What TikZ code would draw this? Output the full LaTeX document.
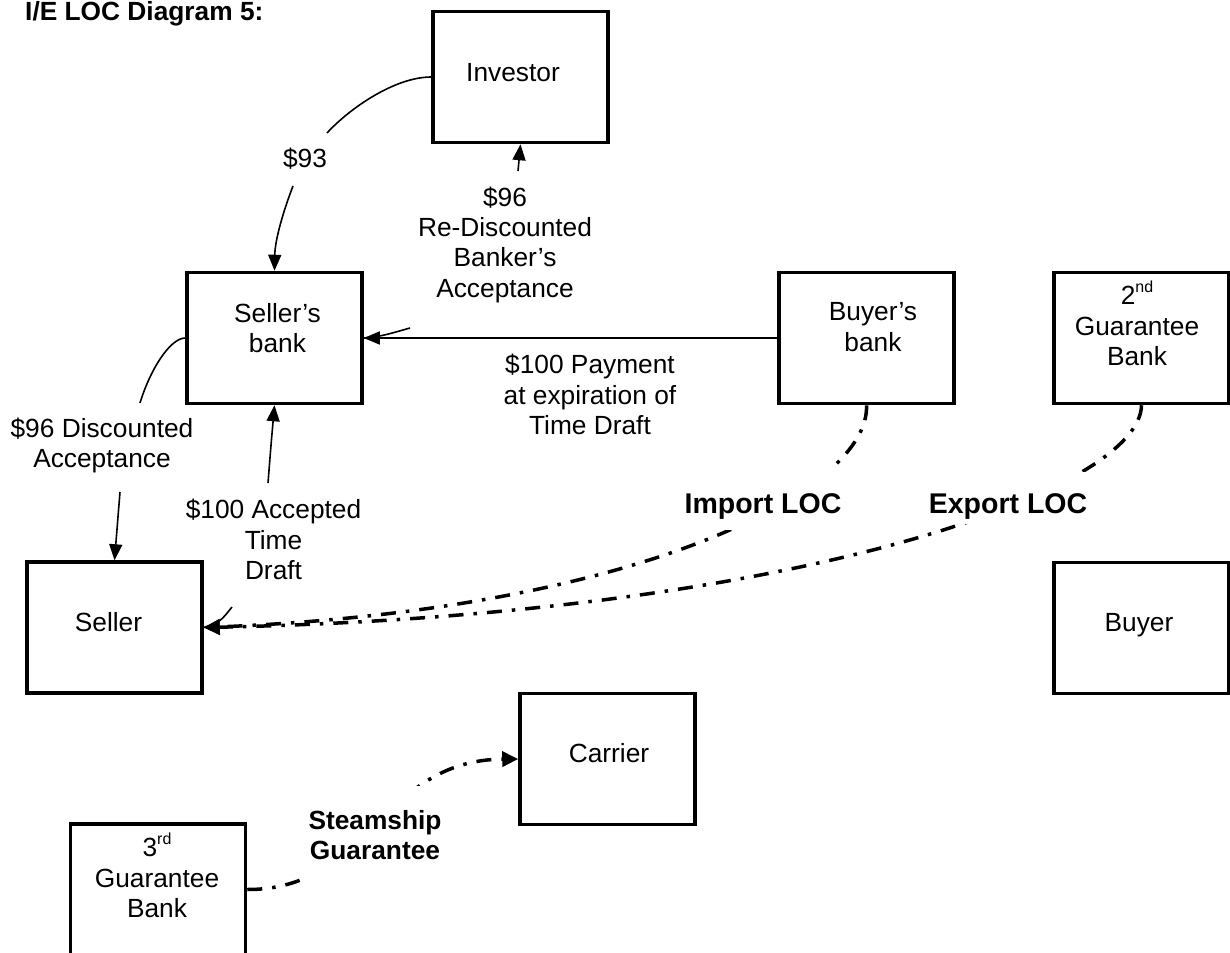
\documentclass[tikz,border=0pt]{standalone}
\usepackage{fontspec}
\setmainfont{Liberation Sans}
\usetikzlibrary{arrows.meta}
\begin{document}
\begin{tikzpicture}[x=1pt, y=-1pt,
  panel/.style={draw, line width=3.5pt, fill=white, minimum width=175pt, minimum height=131pt, inner sep=0pt},
  txt/.style={font=\fontsize{26.3}{30.3}\selectfont, align=center, inner sep=0pt},
  txtone/.style={font=\fontsize{26.3}{30.3}\selectfont, inner sep=0pt, anchor=base},
  thinline/.style={line width=1.6pt},
  thinarrow/.style={line width=1.6pt, -{Triangle[length=16pt,width=13pt]}},
  locline/.style={line width=3.5pt, dash pattern=on 15pt off 10pt on 3.5pt off 10pt},
  locarrow/.style={locline, -{Triangle[length=16pt,width=15pt]}},
  loclabel/.style={font=\bfseries\fontsize{28.5}{32}\selectfont, fill=white, inner xsep=4pt, text height=30pt, text depth=0pt, anchor=base}
]
\useasboundingbox (0,0) rectangle (1230,952);
\clip (0,0) rectangle (1230,952);

% title
\node[anchor=base west, font=\bfseries\fontsize{26.3}{30}\selectfont, inner sep=0pt] (title) at (25,21) {I/E LOC Diagram 5:};

% parties
\node[panel] (inv) at (520.5,77) {};
\node[panel] (sb)  at (274.5,338) {};
\node[panel] (bb)  at (866.5,338) {};
\node[panel] (gb2) at (1141.5,338) {};
\node[panel] (sel) at (114.5,627.5) {};
\node[panel] (buy) at (1141.5,628) {};
\node[panel] (car) at (607.5,759) {};
\node[panel] (gb3) at (158,889.5) {};

\node[txtone] (inv-t) at (513,81.5) {Investor};
\node[txt] (sb-t) at (277.5,328) {Seller’s\\bank};
\node[txt] (bb-t) at (873,327) {Buyer’s\\bank};
\node[txt] (gb2-t) at (1137,323.5) {2\raisebox{12pt}{\fontsize{16}{16}\selectfont nd}\\Guarantee\\Bank};
\node[txtone] (sel-t) at (108.5,631.5) {Seller};
\node[txtone] (buy-t) at (1139,631.5) {Buyer};
\node[txtone] (car-t) at (609,762.5) {Carrier};
\node[txt] (gb3-t) at (157,875.5) {3\raisebox{12pt}{\fontsize{16}{16}\selectfont rd}\\Guarantee\\Bank};

% $93 from the investor to the seller's bank
\coordinate (a93) at (327,133);
\coordinate (b93) at (293,186);
\draw[thinline] (inv.west) .. controls (395,77) and (350,108) .. (a93);
\draw[thinarrow] (b93) .. controls (283,212) and (275,240) .. (sb.north);
\node[txtone] (l93) at (305,167.5) {\$93};

% re-discounted acceptance to the investor
\coordinate (rdA) at (410,328);
\coordinate (rdB) at (518,171);
\draw[thinline] (sb.east) .. controls (382,336) .. (rdA);
\draw[thinarrow] (rdB) -- (inv.south);
\node[txt] (lrd) at (505,244.6) {\$96\\Re-Discounted\\Banker’s\\Acceptance};

% payment from the buyer's bank
\draw[thinarrow] (bb.west) -- (sb.east);
\node[txt] (lpay) at (590,394.5) {\$100 Payment\\at expiration of\\Time Draft};

% discounted acceptance to the seller
\coordinate (dcA) at (140,403);
\coordinate (dcB) at (120,492);
\draw[thinline] (sb.west) .. controls (170,338) and (150,370) .. (dcA);
\draw[thinarrow] (dcB) -- (sel.north);
\node[txt] (ldc) at (102,445.2) {\$96 Discounted\\Acceptance};

% accepted time draft to the seller's bank
\coordinate (acA) at (232,607);
\coordinate (acB) at (268,483);
\draw[thinline] (sel.east) .. controls (220,622) .. (acA);
\draw[thinarrow] (acB) .. controls (271,445) .. (sb.south);
\node[txt] (lac) at (273.5,539.5) {\$100 Accepted\\Time\\Draft};

% letters of credit
\draw[locarrow] (bb.south) .. controls (870,490) and (640,610) .. (sel.east);
\draw[locarrow] (gb2.south) .. controls (1140,490) and (800,615) .. (sel.east);
\node[loclabel, inner ysep=17pt] (imp) at (763,513) {Import LOC};
\node[loclabel, inner ysep=11pt] (exp) at (1008,513) {Export LOC};

% steamship guarantee
\draw[locarrow] (gb3.east) .. controls (370,890) and (380,760) .. (car.west);
\node[txt, font=\bfseries\fontsize{26.3}{30.3}\selectfont, fill=white, inner xsep=8pt, inner ysep=24pt] (steam) at (375,835) {Steamship\\Guarantee};
\end{tikzpicture}
\end{document}
